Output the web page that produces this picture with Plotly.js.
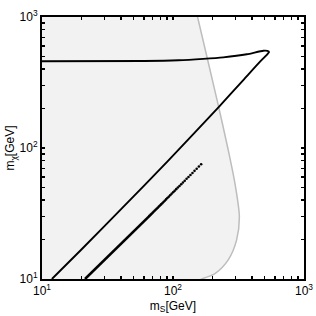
<!DOCTYPE html>
<html>
<head>
<meta charset="utf-8">
<script src="https://cdn.plot.ly/plotly-3.0.1.min.js"></script>
<style>html,body{margin:0;padding:0;background:#fff;}#chart{width:316px;height:316px;}</style>
</head>
<body>
<div id="chart"></div>
<script>
// Allowed region boundary (grey); first/last points continue just past the axis range
const boundaryMS = [131, 154, 217, 264, 297, 321, 306, 264, 209, 166, 120];
const boundaryMX = [2000, 1000, 232, 96.6, 53.7, 29.9, 19.9, 14, 11, 10, 8.5];

// Black solid curve
const curveMS = [11.9, 20, 40, 92, 225, 344, 460, 504, 530, 541, 525, 489, 366, 242, 170, 110, 60, 10];
const curveMX = [10, 16.8, 34, 80, 207, 330, 454, 498, 526, 540, 551, 553, 519, 492, 479, 467, 461, 460];

// Dotted series (dense part then separate points)
const denseMS = [21.3, 40, 66.5];
const denseMX = [10, 18.6, 30.5];
const dotMS = [164, 157.6, 151.6, 146.0, 140.8, 135.9, 131.3, 127.0, 122.9, 119.1, 115.5, 112.1, 108.9, 105.8, 102.9, 100.2, 97.6, 95.1, 92.8, 90.6, 88.5, 86.5, 84.6, 82.8, 81.1, 79.5, 78.0, 76.5, 75.1, 73.7, 72.4, 71.1, 69.9, 68.7, 67.6, 66.5];
const dotMX = [75.1, 72.2, 69.4, 66.9, 64.5, 62.2, 60.1, 58.2, 56.3, 54.5, 52.9, 51.3, 49.9, 48.5, 47.1, 45.9, 44.7, 43.6, 42.5, 41.5, 40.5, 39.6, 38.7, 37.9, 37.1, 36.4, 35.7, 35.0, 34.4, 33.8, 33.2, 32.6, 32.0, 31.5, 31.0, 30.5];

const decades = [10, 100, 1000];
const decadeLabels = ['10<sup>1</sup>', '10<sup>2</sup>', '10<sup>3</sup>'];

const tickVals = [], tickText = [];
for (const d of [10, 100]) {
  for (let k = 1; k <= 9; k++) {
    tickVals.push(d * k);
    const i = decades.indexOf(d * k);
    tickText.push(i >= 0 ? decadeLabels[i] : '');
  }
}
tickVals.push(1000); tickText.push(decadeLabels[2]);

// close the region far outside the left side of the plot (clipped away)
const fillX = boundaryMS.concat([1, 1, boundaryMS[0]]);
const fillY = boundaryMX.concat([boundaryMX[boundaryMX.length - 1], boundaryMX[0], boundaryMX[0]]);

const traces = [
  {x: fillX, y: fillY, type: 'scatter', mode: 'lines', fill: 'toself',
   fillcolor: '#f2f2f2', line: {width: 1.5, color: '#bdbdbd', shape: 'spline', smoothing: 0.8}, hoverinfo: 'skip'},
  {x: curveMS, y: curveMX, type: 'scatter', mode: 'lines',
   line: {color: '#000', width: 1.9, shape: 'spline', smoothing: 0.6}},
  {x: denseMS, y: denseMX, type: 'scatter', mode: 'lines',
   line: {color: '#000', width: 2.6}},
  {x: dotMS, y: dotMX, type: 'scatter', mode: 'markers',
   marker: {color: '#000', size: 2.6}}
];

const axisCommon = {
  type: 'log', showgrid: false, zeroline: false,
  showline: true, linecolor: '#000', linewidth: 2, mirror: 'ticks',
  ticks: 'inside', ticklen: 3, tickwidth: 1.5, tickcolor: '#000',
  tickmode: 'array', tickvals: tickVals, ticktext: tickText,
  tickfont: {family: 'Liberation Sans, Arial, sans-serif', size: 12, color: '#000'}
};

const layout = {
  width: 316, height: 316,
  margin: {l: 42, r: 12, t: 17, b: 37},
  paper_bgcolor: '#fff', plot_bgcolor: '#fff',
  showlegend: false,
  xaxis: Object.assign({}, axisCommon, {
    range: [1, 3],
    title: {text: 'm<sub>S</sub>[GeV]', standoff: 4,
            font: {family: 'Liberation Sans, Arial, sans-serif', size: 12, color: '#000'}}
  }),
  yaxis: Object.assign({}, axisCommon, {
    range: [1, 3],
    title: {text: 'm<sub>χ</sub>[GeV]', standoff: 2,
            font: {family: 'Liberation Sans, Arial, sans-serif', size: 12, color: '#000'}}
  })
};

Plotly.newPlot('chart', traces, layout, {staticPlot: true, displayModeBar: false});
</script>
</body>
</html>
